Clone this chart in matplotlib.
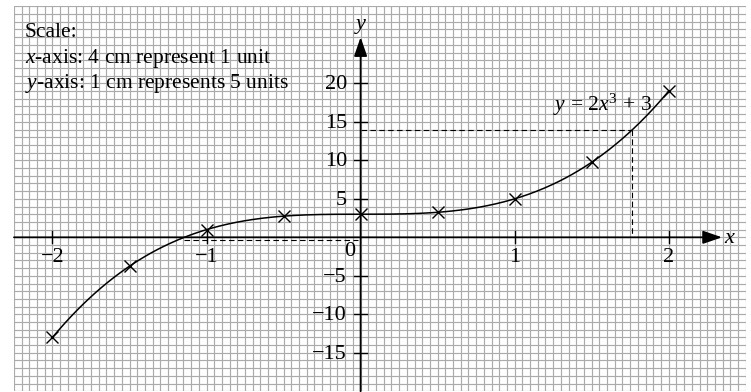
import numpy as np
import matplotlib.pyplot as plt
from matplotlib.ticker import MultipleLocator

# Data
x_points = [-2, -1.5, -1, -0.5, 0, 0.5, 1, 1.5, 2]
y_points = [-13, -3.75, 1, 2.75, 3, 3.25, 5, 9.75, 19]
cubic_coeffs = [2, 0, 0, 3]  # y = 2x^3 + 3, from the label

x_ticks = [-2, -1, 1, 2]
x_tick_labels = ["\u22122", "\u22121", "1", "2"]
y_ticks = [20, 15, 10, 5, -5, -10, -15]
y_tick_labels = ["20", "15", "10", "5", "\u22125", "\u221210", "\u221215"]

read_y = 14
read_x = 1.76
root_x = -1.145

scale_lines = ["Scale:", "$x$-axis: 4 cm represent 1 unit", "$y$-axis: 1 cm represents 5 units"]

plt.rcParams["font.family"] = ["Liberation Serif", "DejaVu Serif"]
plt.rcParams["mathtext.fontset"] = "custom"
plt.rcParams["mathtext.rm"] = "Liberation Serif"
plt.rcParams["mathtext.it"] = "Liberation Serif:italic"


def main():
    fig = plt.figure(figsize=(7.51, 3.92), dpi=100)
    ax = fig.add_axes([0.0186, 0.0018, 0.9744, 0.982])
    ax.set_xlim(-2.25, 2.5)
    ax.set_ylim(-20, 30)

    # graph paper
    ax.xaxis.set_major_locator(MultipleLocator(0.05))
    ax.yaxis.set_major_locator(MultipleLocator(1))
    ax.grid(True, color="#ababab", lw=0.85, zorder=0)
    ax.tick_params(length=0, labelbottom=False, labelleft=False)
    for s in ax.spines.values():
        s.set_visible(False)
    ax.set_axisbelow(True)

    # axes with arrows
    ax.annotate("", xy=(2.346, 0), xytext=(-2.25, 0),
                arrowprops=dict(arrowstyle="-|>,head_length=0.58,head_width=0.2",
                                mutation_scale=20, lw=1.3, color="black",
                                shrinkA=0, shrinkB=0), zorder=4)
    ax.annotate("", xy=(0, 26.0), xytext=(0, -20),
                arrowprops=dict(arrowstyle="-|>,head_length=0.58,head_width=0.2",
                                mutation_scale=20, lw=1.3, color="black",
                                shrinkA=0, shrinkB=0), zorder=4)
    ax.text(2.39, -0.2, "x", style="italic", fontsize=16, ha="center", va="center")
    ax.text(0.0, 27.7, "y", style="italic", fontsize=16, ha="center", va="center")

    # ticks and labels
    for t, lab in zip(x_ticks, x_tick_labels):
        ax.plot([t, t], [-0.8, 0.8], color="black", lw=1.0, zorder=4)
        ax.text(t, -2.6, lab, fontsize=16, ha="center", va="center")
    for t, lab in zip(y_ticks, y_tick_labels):
        ax.plot([-0.044, 0.044], [t, t], color="black", lw=1.0, zorder=4)
        ax.text(-0.089, t - 0.2, lab, fontsize=16, ha="right", va="center")
    ax.text(-0.068, -1.9, "0", fontsize=16, ha="center", va="center")

    # curve and points
    xs = np.linspace(x_points[0], x_points[-1], 300)
    ax.plot(xs, np.polyval(cubic_coeffs, xs), color="black", lw=1.1, zorder=5)
    ax.plot(x_points, y_points, "x", color="black", ms=8.5, mew=1.0, zorder=6)

    # reading lines
    dash = (0, (5, 3))
    ax.plot([0, read_x], [read_y, read_y], color="black", lw=0.8, ls=dash, zorder=3)
    ax.plot([read_x, read_x], [read_y, 0], color="black", lw=0.8, ls=dash, zorder=3)
    ax.plot([root_x, -0.02], [-0.35, -0.35], color="black", lw=0.8, ls=dash, zorder=3)

    ax.text(1.249, 17.2, r"$y\,=\,2x^3\,+\,3$", fontsize=15.5, ha="left", va="center")

    for i, line in enumerate(scale_lines):
        ax.text(-2.18, 26.0 - 3.3 * i, line, fontsize=15.5, ha="left", va="baseline")

    fig.savefig("out.png", dpi=100)
    plt.close(fig)


if __name__ == "__main__":
    main()
